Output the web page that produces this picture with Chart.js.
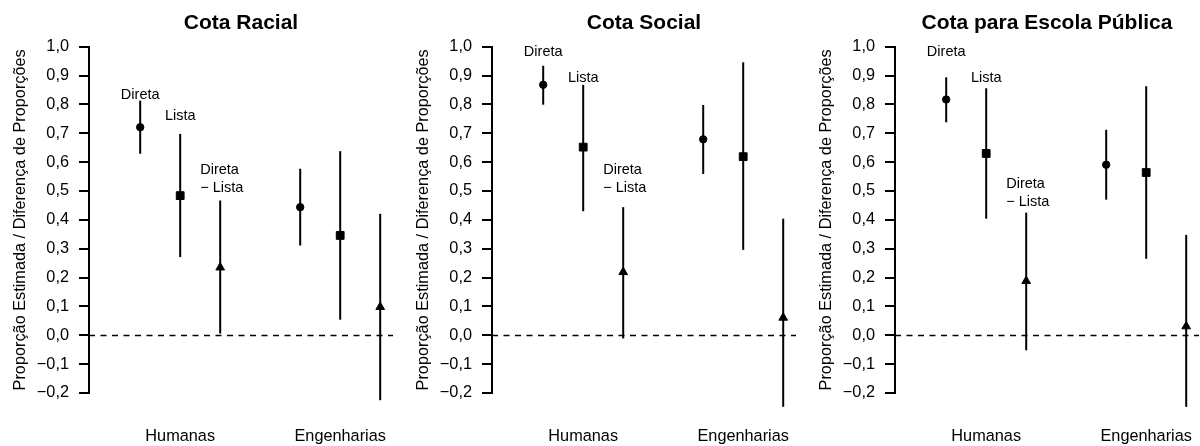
<!DOCTYPE html>
<html>
<head>
<meta charset="utf-8">
<script src="https://cdn.jsdelivr.net/npm/chart.js@4/dist/chart.umd.min.js"></script>
<style>
html,body{margin:0;padding:0;background:#fff;}
#wrap{position:relative;width:1200px;height:446px;overflow:hidden;background:#fff;}
.p{position:absolute;top:0;width:404px;height:446px;}
canvas{display:block;}
</style>
</head>
<body>
<div id="wrap">
  <div class="p" style="left:0px"><canvas id="c0" width="404" height="446"></canvas></div>
  <div class="p" style="left:403px"><canvas id="c1" width="404" height="446"></canvas></div>
  <div class="p" style="left:806px"><canvas id="c2" width="404" height="446"></canvas></div>
</div>
<script>
// ---- data ----
const panelTitles = ['Cota Racial', 'Cota Social', 'Cota para Escola Pública'];
const categories = ['Humanas', 'Engenharias'];
const categoryX = [2, 6];
const seriesNames = ['Direta', 'Lista', 'Direta − Lista'];
// order: Humanas (Direta, Lista, Direta−Lista), Engenharias (Direta, Lista, Direta−Lista)
const pointX = [1, 2, 3, 5, 6, 7];
const pointSeries = [0, 1, 2, 0, 1, 2];

const racialEst   = [0.721, 0.484, 0.235, 0.444, 0.346, 0.098];
const racialLow   = [0.629, 0.271, 0.006, 0.311, 0.054, -0.225];
const racialHigh  = [0.813, 0.698, 0.467, 0.577, 0.638, 0.421];

const socialEst   = [0.868, 0.652, 0.219, 0.679, 0.619, 0.061];
const socialLow   = [0.799, 0.430, -0.011, 0.559, 0.296, -0.248];
const socialHigh  = [0.934, 0.868, 0.444, 0.798, 0.946, 0.404];

const publicaEst  = [0.817, 0.630, 0.188, 0.591, 0.564, 0.031];
const publicaLow  = [0.738, 0.404, -0.052, 0.470, 0.265, -0.248];
const publicaHigh = [0.894, 0.856, 0.425, 0.712, 0.863, 0.348];

// label heights (data units): Direta, Lista, Direta − Lista
const racialLabelY  = [0.838, 0.763, 0.578];
const socialLabelY  = [0.986, 0.895, 0.578];
const publicaLabelY = [0.986, 0.895, 0.529];

const yTicks = [-0.2, -0.1, 0.0, 0.1, 0.2, 0.3, 0.4, 0.5, 0.6, 0.7, 0.8, 0.9, 1.0];
const yTitle = 'Proporção Estimada / Diferença de Proporções';

const panels = [
  {title: panelTitles[0], est: racialEst, low: racialLow, high: racialHigh, labelY: racialLabelY},
  {title: panelTitles[1], est: socialEst, low: socialLow, high: socialHigh, labelY: socialLabelY},
  {title: panelTitles[2], est: publicaEst, low: publicaLow, high: publicaHigh, labelY: publicaLabelY}
];

// ---- styling ----
const FONT = '"Liberation Sans", Arial, Helvetica, sans-serif';
Chart.defaults.font.family = FONT;
Chart.defaults.color = '#000';

const pointStyles = ['circle', 'rect', 'triangle'];
const pointRadii = [3.7, 5.5, 5];

const errorBarPlugin = {
  id: 'errorBars',
  beforeDatasetsDraw(chart) {
    const {ctx, chartArea, scales: {x, y}} = chart;
    const p = chart.options.plugins.errorBars;
    ctx.save();
    // dashed zero line
    ctx.strokeStyle = '#000';
    ctx.lineWidth = 1.6;
    ctx.setLineDash([6, 5.5]);
    const y0 = Math.round(y.getPixelForValue(0)) + 0.5;
    ctx.beginPath();
    ctx.moveTo(chartArea.left, y0);
    ctx.lineTo(chartArea.right, y0);
    ctx.stroke();
    ctx.setLineDash([]);
    // error bars
    ctx.lineWidth = 2;
    for (let i = 0; i < pointX.length; i++) {
      const px = x.getPixelForValue(pointX[i]);
      ctx.beginPath();
      ctx.moveTo(px, y.getPixelForValue(p.low[i]));
      ctx.lineTo(px, y.getPixelForValue(p.high[i]));
      ctx.stroke();
    }
    ctx.restore();
  },
  afterDatasetsDraw(chart) {
    const {ctx, scales: {x, y}} = chart;
    const p = chart.options.plugins.errorBars;
    const size = 14.5;
    const cap = 0.358 * size;
    ctx.save();
    ctx.fillStyle = '#000';
    ctx.font = size + 'px ' + FONT;
    ctx.textBaseline = 'alphabetic';
    ctx.textAlign = 'center';
    ctx.fillText(seriesNames[0], x.getPixelForValue(pointX[0]), y.getPixelForValue(p.labelY[0]) + cap);
    ctx.fillText(seriesNames[1], x.getPixelForValue(pointX[1]), y.getPixelForValue(p.labelY[1]) + cap);
    // two-line label for the difference
    ctx.textAlign = 'left';
    const parts = ['Direta', '− Lista'];
    const lx = x.getPixelForValue((pointX[1] + pointX[2]) / 2);
    const ly = y.getPixelForValue(p.labelY[2]) + cap;
    ctx.fillText(parts[0], lx, ly);
    ctx.fillText(parts[1], lx, ly + 18.3);
    ctx.restore();
  }
};

panels.forEach((panel, k) => {
  const datasets = seriesNames.map((name, s) => ({
    label: name,
    data: pointX.map((xv, i) => ({x: xv, y: panel.est[i], s: pointSeries[i]}))
                .filter(d => d.s === s)
                .map(d => ({x: d.x, y: d.y})),
    pointStyle: pointStyles[s],
    pointRadius: pointRadii[s],
    backgroundColor: '#000',
    borderColor: '#000',
    borderWidth: 1,
    showLine: false,
    clip: false
  }));

  new Chart(document.getElementById('c' + k), {
    type: 'scatter',
    data: {datasets},
    plugins: [errorBarPlugin],
    options: {
      responsive: false,
      animation: false,
      events: [],
      devicePixelRatio: 1,
      layout: {padding: {left: 0, right: 11, top: 0, bottom: 0}},
      plugins: {
        legend: {display: false},
        tooltip: {enabled: false},
        title: {
          display: true,
          text: panel.title,
          fullSize: false,
          align: 'center',
          color: '#000',
          font: {family: FONT, size: 21, weight: 'bold', lineHeight: 1.2},
          padding: {top: 10.4, bottom: 11.1}
        },
        errorBars: {low: panel.low, high: panel.high, labelY: panel.labelY}
      },
      scales: {
        x: {
          type: 'linear',
          min: -0.28,
          max: 7.32,
          grid: {display: false, drawTicks: false},
          border: {display: false},
          afterBuildTicks(scale) {
            scale.ticks = categoryX.map(v => ({value: v}));
          },
          ticks: {
            autoSkip: false,
            maxRotation: 0,
            padding: 34,
            color: '#000',
            font: {family: FONT, size: 16.3, lineHeight: 1.2},
            callback(value) {
              const idx = categoryX.indexOf(value);
              return idx >= 0 ? categories[idx] : '';
            }
          },
          afterFit(scale) {
            scale.height = 53;
            scale.paddingLeft = 0;
            scale.paddingRight = 0;
          }
        },
        y: {
          type: 'linear',
          min: -0.2,
          max: 1.0,
          afterBuildTicks(scale) {
            scale.ticks = yTicks.map(v => ({value: v}));
          },
          grid: {
            display: true,
            drawOnChartArea: false,
            drawTicks: true,
            tickLength: 10,
            color: '#000',
            lineWidth: 2
          },
          border: {display: true, color: '#000', width: 2},
          ticks: {
            padding: 10,
            color: '#000',
            font: {family: FONT, size: 16.3},
            callback(value) {
              const v = Math.round(value * 10) / 10;
              let s = Math.abs(v).toFixed(1).replace('.', ',');
              return v < 0 ? '−' + s : s;
            }
          },
          title: {
            display: true,
            text: yTitle,
            color: '#000',
            font: {family: FONT, size: 16.3, lineHeight: 1.2},
            padding: {top: 11, bottom: 0}
          },
          afterFit(scale) {
            scale.width = 89;
            scale.paddingTop = 0;
            scale.paddingBottom = 0;
          }
        }
      }
    }
  });
});
</script>
</body>
</html>
